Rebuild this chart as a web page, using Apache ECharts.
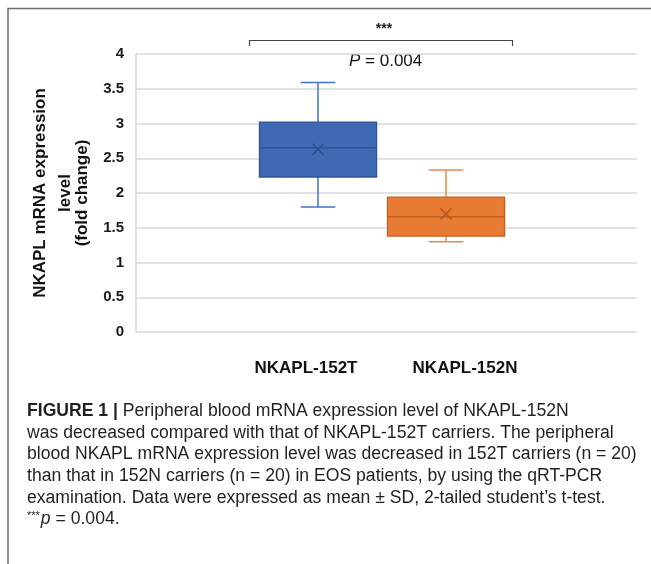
<!DOCTYPE html>
<html>
<head>
<meta charset="utf-8">
<script src="https://cdn.jsdelivr.net/npm/echarts@6/dist/echarts.min.js"></script>
<style>
  html, body { margin: 0; padding: 0; background: #fff; }
  #chart { width: 651px; height: 564px; }
</style>
</head>
<body>
<div id="chart"></div>
<script>
const groups = ['NKAPL-152T', 'NKAPL-152N'];
// [min, Q1, median, Q3, max]
const boxStats = [
  [1.80, 2.23, 2.65, 3.02, 3.59],
  [1.30, 1.38, 1.66, 1.94, 2.33],
];
const means = [2.63, 1.70];
const yTicks = [0, 0.5, 1, 1.5, 2, 2.5, 3, 3.5, 4];
const yTitleLines = ['NKAPL mRNA expression', 'level', '(fold change)'];
const captionLines = [
  '{b|FIGURE 1 |} Peripheral blood mRNA expression level of NKAPL-152N',
  'was decreased compared with that of NKAPL-152T carriers. The peripheral',
  'blood NKAPL mRNA expression level was decreased in 152T carriers (n = 20)',
  'than that in 152N carriers (n = 20) in EOS patients, by using the qRT-PCR',
  'examination. Data were expressed as mean \u00b1 SD, 2-tailed student\u2019s t-test.',
  '{sup|***}{i|p} = 0.004.',
];

const palette = [
  { fill: '#3F69B3', border: '#2F5597', whisker: '#4472C4', mark: '#2E4E8A' },
  { fill: '#E87B33', border: '#C55F1E', whisker: '#E38B57', mark: '#B65A1D' },
];

const FONT = '"Liberation Sans", Arial, sans-serif';
const gridLine = '#D9D9D9';
const captionSize = 17.6;

const chart = echarts.init(document.getElementById('chart'), null, { renderer: 'canvas' });

function renderBox(params, api) {
  const idx = api.value(0);
  const lo = api.value(1);
  const q1 = api.value(2);
  const med = api.value(3);
  const q3 = api.value(4);
  const hi = api.value(5);
  const mean = api.value(6);
  const band = api.size([1, 0])[0];
  const boxW = band * 0.915;
  const capW = band * 0.27;
  const cx = api.coord([idx, 0])[0];
  const y = (v) => api.coord([idx, v])[1];
  const c = palette[idx];
  const line = (x1, y1, x2, y2, color, w) => ({
    type: 'line',
    shape: { x1, y1, x2, y2 },
    style: { stroke: color, lineWidth: w },
  });
  const mx = y(mean);
  const ms = 5.5;
  return {
    type: 'group',
    children: [
      line(cx, y(q3), cx, y(hi), c.whisker, 1.5),
      line(cx - capW / 2, y(hi), cx + capW / 2, y(hi), c.whisker, 1.5),
      line(cx, y(q1), cx, y(lo), c.whisker, 1.5),
      line(cx - capW / 2, y(lo), cx + capW / 2, y(lo), c.whisker, 1.5),
      {
        type: 'rect',
        shape: { x: cx - boxW / 2, y: y(q3), width: boxW, height: y(q1) - y(q3) },
        style: { fill: c.fill, stroke: c.border, lineWidth: 1.3 },
      },
      line(cx - boxW / 2, y(med), cx + boxW / 2, y(med), c.border, 1.5),
      line(cx - ms, mx - ms, cx + ms, mx + ms, c.mark, 1.5),
      line(cx - ms, mx + ms, cx + ms, mx - ms, c.mark, 1.5),
    ],
  };
}

const option = {
  animation: false,
  backgroundColor: '#fff',
  grid: [
    { left: 136, right: 14, top: 54, bottom: 232 },
    { left: 254, width: 256, top: 54, bottom: 232 },
  ],
  xAxis: [
    {
      type: 'category', gridIndex: 0, data: [''],
      axisLine: { show: false }, axisTick: { show: false }, axisLabel: { show: false },
    },
    {
      type: 'category', gridIndex: 1, data: groups,
      axisLine: { show: false }, axisTick: { show: false }, axisLabel: { show: false },
    },
  ],
  yAxis: [
    {
      type: 'value', gridIndex: 0,
      min: yTicks[0], max: yTicks[yTicks.length - 1], interval: yTicks[1] - yTicks[0],
      axisLine: { show: true, lineStyle: { color: gridLine, width: 1.5 } },
      axisTick: { show: false },
      splitLine: { show: true, lineStyle: { color: gridLine, width: 1.5 } },
      axisLabel: {
        margin: 12, color: '#1a1a1a', fontFamily: FONT, fontSize: 15, fontWeight: 'bold',
      },
    },
    {
      type: 'value', gridIndex: 1,
      min: yTicks[0], max: yTicks[yTicks.length - 1],
      show: false, splitLine: { show: false },
    },
  ],
  series: [
    {
      type: 'custom',
      xAxisIndex: 1,
      yAxisIndex: 1,
      renderItem: renderBox,
      data: boxStats.map((s, i) => [i, ...s, means[i]]),
      z: 3,
    },
  ],
  graphic: [
    // frame round the figure
    {
      type: 'polyline',
      shape: { points: [[8, 564], [8, 8.5], [651, 8.5]] },
      style: { stroke: '#6b6b6b', lineWidth: 1.5, fill: null },
    },
    // significance bracket
    {
      type: 'polyline',
      shape: { points: [[249.5, 46], [249.5, 40.5], [512.5, 40.5], [512.5, 46]] },
      style: { stroke: '#444', lineWidth: 1.2, fill: null },
    },
    {
      type: 'text', x: 384, y: 29,
      style: {
        text: '***', fontFamily: FONT, fontSize: 14, fontWeight: 'bold', fill: '#222',
        textAlign: 'center', textVerticalAlign: 'middle',
      },
    },
    {
      type: 'text', x: 349, y: 61,
      style: {
        text: '{i|P} = 0.004', fontFamily: FONT, fontSize: 17, fill: '#111',
        textAlign: 'left', textVerticalAlign: 'middle',
        rich: { i: { fontFamily: FONT, fontSize: 17, fontStyle: 'italic', fill: '#111' } },
      },
    },
    // group labels
    ...groups.map((g, i) => ({
      type: 'text', x: [306, 465][i], y: 368,
      style: {
        text: g, fontFamily: FONT, fontSize: 17, fontWeight: 'bold', fill: '#111',
        textAlign: 'center', textVerticalAlign: 'middle',
      },
    })),
    // y axis title, three lines
    ...yTitleLines.map((t, i) => ({
      type: 'text', x: [40, 65, 82][i], y: 193, rotation: Math.PI / 2,
      style: {
        text: t, fontFamily: FONT, fontSize: 17, fontWeight: 'bold', fill: '#111',
        textAlign: 'center', textVerticalAlign: 'middle',
      },
    })),
    // caption
    ...captionLines.map((t, i) => ({
      type: 'text', x: 27, y: 411 + i * 21.7,
      style: {
        text: t, fontFamily: FONT, fontSize: captionSize, fill: '#231f20',
        textAlign: 'left', textVerticalAlign: 'middle',
        rich: {
          b: { fontFamily: FONT, fontSize: captionSize, fontWeight: 'bold', fill: '#231f20' },
          i: { fontFamily: FONT, fontSize: captionSize, fontStyle: 'italic', fill: '#231f20' },
          sup: { fontFamily: FONT, fontSize: 11, fill: '#231f20', verticalAlign: 'top', padding: [0, 1, 6, 0] },
        },
      },
    })),
  ],
};

chart.setOption(option);
</script>
</body>
</html>
